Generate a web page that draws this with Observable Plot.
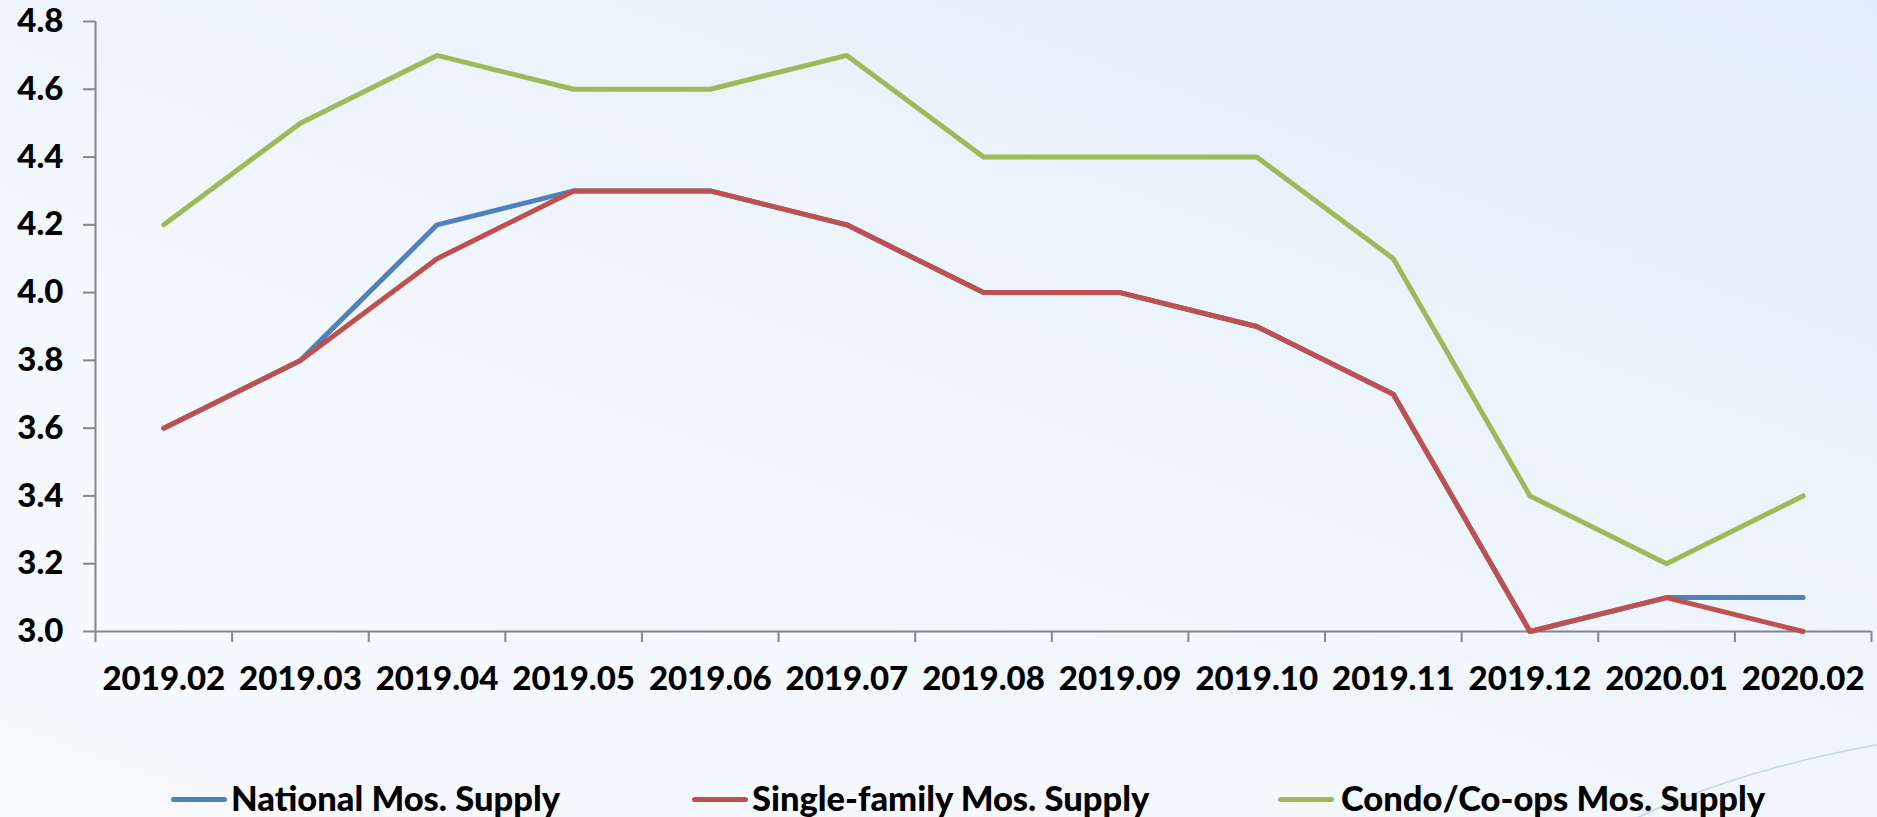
<!DOCTYPE html>
<html><head><meta charset="utf-8">
<script src="https://cdn.jsdelivr.net/npm/d3@7"></script>
<script src="https://cdn.jsdelivr.net/npm/@observablehq/plot@0.6"></script>
<style>
html,body{margin:0;padding:0;width:1877px;height:817px;overflow:hidden;}
body{font-family:Lato,"Open Sans",sans-serif;
  background:
    radial-gradient(ellipse 680px 280px at 2150px 1000px, rgba(0,0,0,0) 99.2%, #B9D3EC 99.6%, rgba(0,0,0,0) 100%),
    linear-gradient(200deg,#E2EEFA 0%,#EBF3FC 35%,#F3F8FD 65%,#F8FAFD 100%);}
#legend{width:1877px;height:57px;position:relative;}
.li{position:absolute;height:5px;width:56px;border-radius:3px;top:37px;}
.lt{position:absolute;top:18px;font-size:34.5px;font-weight:900;line-height:40px;color:#000;white-space:nowrap;}
</style></head><body>
<div id="chart"></div>
<div id="legend"></div>
<script>
const months = ["2019.02","2019.03","2019.04","2019.05","2019.06","2019.07","2019.08","2019.09","2019.10","2019.11","2019.12","2020.01","2020.02"];
const national     = [3.6,3.8,4.2,4.3,4.3,4.2,4.0,4.0,3.9,3.7,3.0,3.1,3.1];
const singleFamily = [3.6,3.8,4.1,4.3,4.3,4.2,4.0,4.0,3.9,3.7,3.0,3.1,3.0];
const condo        = [4.2,4.5,4.7,4.6,4.6,4.7,4.4,4.4,4.4,4.1,3.4,3.2,3.4];
const seriesNames = ["National Mos. Supply","Single-family Mos. Supply","Condo/Co-ops Mos. Supply"];
const seriesValues = [national, singleFamily, condo];
const colors = ["#4F81BD","#C0504D","#9BBB59"];
const yTicks = [3.0,3.2,3.4,3.6,3.8,4.0,4.2,4.4,4.6,4.8];

const rows = [];
seriesNames.forEach((s,k)=>seriesValues[k].forEach((v,i)=>rows.push({series:s,i,month:months[i],value:v})));

const idx = months.map((m,i)=>i);
const bounds = months.map((m,i)=>i-0.5).concat([months.length-0.5]);

const plot = Plot.plot({
  width:1877, height:760,
  marginLeft:95, marginRight:6, marginTop:21, marginBottom:129,
  x:{type:"linear", domain:[-0.5, months.length-0.5], axis:null, label:null},
  y:{domain:[3.0,4.8], axis:null, label:null},
  color:{domain:seriesNames, range:colors},
  style:{background:"transparent", fontFamily:"Lato, 'Open Sans', sans-serif", fontWeight:"900", fontSize:"33px", color:"#000", overflow:"visible"},
  marks:[
    Plot.axisY({ticks:yTicks, tickFormat:d3.format(".1f"), tickSize:12, tickPadding:20, stroke:"#868686", strokeWidth:2, fill:"#000", label:null, fontSize:33, fontWeight:"900"}),
    Plot.axisX({ticks:bounds, tickFormat:()=>"", tickSize:11, stroke:"#868686", strokeWidth:2, label:null}),
    Plot.axisX({ticks:idx, tickFormat:i=>months[i], tickSize:0, tickPadding:35, fill:"#000", label:null, fontSize:33, fontWeight:"900"}),
    Plot.ruleX([-0.5], {stroke:"#868686", strokeWidth:2}),
    Plot.ruleY([3.0], {stroke:"#868686", strokeWidth:2}),
    Plot.line(rows, {x:"i", y:"value", z:"series", stroke:"series", strokeWidth:5, strokeLinecap:"round", strokeLinejoin:"round"})
  ]
});
document.getElementById("chart").appendChild(plot);

const legendPos = [[171,231],[692,752],[1278,1341]];
const lg = document.getElementById("legend");
seriesNames.forEach((s,k)=>{
  const l = document.createElement("div"); l.className="li"; l.style.left=legendPos[k][0]+"px"; l.style.background=colors[k]; lg.appendChild(l);
  const t = document.createElement("div"); t.className="lt"; t.style.left=legendPos[k][1]+"px"; t.textContent=s; lg.appendChild(t);
});
</script>
</body></html>
